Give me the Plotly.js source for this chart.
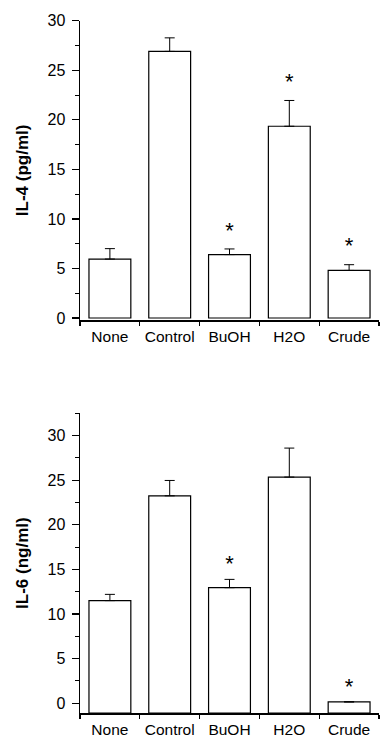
<!DOCTYPE html>
<html>
<head>
<meta charset="utf-8">
<script src="https://cdn.plot.ly/plotly-3.0.1.min.js"></script>
<style>html,body{margin:0;padding:0;background:#fff;}#chart{width:381px;height:738px;}</style>
</head>
<body>
<div id="chart"></div>
<script>
// ---- data ----
const categories = ["None", "Control", "BuOH", "H2O", "Crude"];
const il4Values = [5.95, 26.9, 6.4, 19.35, 4.8];
const il4Errors = [1.05, 1.37, 0.57, 2.6, 0.58];
const il4Significant = [false, false, true, true, true];
const il6Values = [11.5, 23.25, 12.95, 25.35, 0.15];
const il6Errors = [0.7, 1.72, 0.93, 3.25, 0];
const il6Significant = [false, false, true, false, true];
const il4Title = "IL-4 (pg/ml)";
const il6Title = "IL-6 (ng/ml)";
const yTickVals = [0, 5, 10, 15, 20, 25, 30];

// ---- style ----
const FONT = "Liberation Sans, Arial, Helvetica, sans-serif";
const topRange = [-0.2, 30];
const botRange = [-1.1, 32.5];
const xDomain = [80 / 381, 379 / 381];
const topDomain = [1 - 320 / 738, 1 - 20.7 / 738];
const botDomain = [1 - 713 / 738, 1 - 413.3 / 738];
const starOffsetTop = 1.7;
const starOffsetBot = 1.5;

function barTrace(vals, errs, xa, ya, base) {
  return {
    type: "bar", x: categories, y: vals.map(v => v - base), base: base,
    xaxis: xa, yaxis: ya, width: 0.7,
    marker: { color: "#ffffff", line: { color: "#000", width: 1.2 } },
    error_y: { type: "data", symmetric: false, array: errs, arrayminus: errs.map(() => 0),
               color: "#000", thickness: 1, width: 5 },
    showlegend: false, hoverinfo: "x+text", text: vals.map(String), textposition: "none"
  };
}
function starTrace(vals, errs, sig, off, xa, ya) {
  const xs = [], ys = [];
  vals.forEach((v, i) => { if (sig[i]) { xs.push(categories[i]); ys.push(v + errs[i] + off); } });
  return {
    type: "scatter", mode: "text", x: xs, y: ys, text: xs.map(() => "*"),
    textposition: "middle center", textfont: { family: FONT, size: 22, color: "#000" },
    xaxis: xa, yaxis: ya, showlegend: false, hoverinfo: "skip", cliponaxis: false
  };
}

const traces = [
  barTrace(il4Values, il4Errors, "x", "y", 0),
  starTrace(il4Values, il4Errors, il4Significant, starOffsetTop, "x", "y"),
  barTrace(il6Values, il6Errors, "x2", "y2", botRange[0]),
  starTrace(il6Values, il6Errors, il6Significant, starOffsetBot, "x2", "y2")
];

function xAxis(anchor) {
  return {
    domain: xDomain, anchor: anchor, type: "category", range: [-0.5, 4.5],
    showline: true, linecolor: "#000", linewidth: 1.5, mirror: false,
    ticks: "outside", tickson: "boundaries", ticklen: 4, tickwidth: 1.2, tickcolor: "#000",
    tickangle: 0, ticklabelstandoff: 2,
    showgrid: false, zeroline: false, fixedrange: true,
    tickfont: { family: FONT, size: 15.5, color: "#000" }
  };
}
function xOverlay(over, anchor) {
  return {
    overlaying: over, anchor: anchor, type: "linear", range: [-0.5, 4.5],
    tickmode: "array", tickvals: [-0.5, 0.5, 1.5, 2.5, 3.5, 4.5],
    ticks: "inside", ticklen: 4, tickwidth: 1.2, tickcolor: "#000",
    showticklabels: false, showgrid: false, zeroline: false, showline: false
  };
}
function yAxis(domain, range, anchor, title) {
  return {
    domain: domain, anchor: anchor, range: range,
    showline: true, linecolor: "#000", linewidth: 1.5,
    ticks: "outside", ticklen: 7, tickwidth: 1.2, tickcolor: "#000",
    tickmode: "array", tickvals: yTickVals, ticklabelstandoff: 3,
    minor: { dtick: 2.5, tick0: 0, ticks: "outside", ticklen: 3.5, tickwidth: 1, tickcolor: "#000", showgrid: false },
    showgrid: false, zeroline: false, fixedrange: true,
    tickfont: { family: FONT, size: 16, color: "#000" },
    title: { text: "<b>" + title + "</b>", font: { family: FONT, size: 17, color: "#000" }, standoff: 14 }
  };
}

const layout = {
  width: 381, height: 738,
  margin: { l: 0, r: 0, t: 0, b: 0 },
  paper_bgcolor: "#fff", plot_bgcolor: "#fff",
  bargap: 0.3,
  xaxis: xAxis("y"),
  yaxis: yAxis(topDomain, topRange, "x", il4Title),
  xaxis2: xAxis("y2"),
  yaxis2: yAxis(botDomain, botRange, "x2", il6Title),
  xaxis3: xOverlay("x", "y"),
  xaxis4: xOverlay("x2", "y2")
};

Plotly.newPlot("chart", traces, layout, { staticPlot: true, displayModeBar: false });
</script>
</body>
</html>
